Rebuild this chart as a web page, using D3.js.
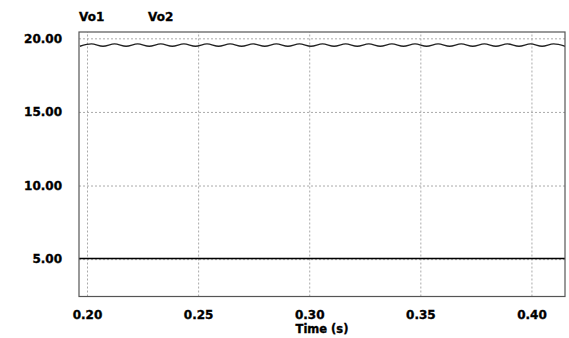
<!DOCTYPE html>
<html>
<head>
<meta charset="utf-8">
<script src="https://cdn.jsdelivr.net/npm/d3@7"></script>
<style>
  html, body { margin: 0; padding: 0; background: #fff; }
  svg { display: block; font-family: "DejaVu Sans", Verdana, sans-serif; font-weight: bold; }
  svg text { stroke: #000; stroke-width: 0.35px; }
</style>
</head>
<body>
<svg id="chart" width="569" height="338"></svg>
<script>
// ---- data ----
const seriesNames = ["Vo1", "Vo2"];
const xTicks = [0.20, 0.25, 0.30, 0.35, 0.40];
const yTicks = [5, 10, 15, 20];
const xLabel = "Time (s)";

// Vo1: ripple around 19.54 V, sampled at its crests and troughs
const vo1Time = [0.1968, 0.2020, 0.2072, 0.2124, 0.2176, 0.2228, 0.2280, 0.2332, 0.2384, 0.2436,
                 0.2488, 0.2540, 0.2592, 0.2644, 0.2696, 0.2748, 0.2800, 0.2852, 0.2904, 0.2956,
                 0.3008, 0.3060, 0.3112, 0.3164, 0.3216, 0.3268, 0.3320, 0.3372, 0.3424, 0.3476,
                 0.3528, 0.3580, 0.3632, 0.3684, 0.3736, 0.3788, 0.3840, 0.3892, 0.3944, 0.3996,
                 0.4048, 0.4100, 0.4152];
const vo1Value = [19.46, 19.62, 19.46, 19.62, 19.46, 19.62, 19.46, 19.62, 19.46, 19.62,
                  19.46, 19.62, 19.46, 19.62, 19.46, 19.62, 19.46, 19.62, 19.46, 19.62,
                  19.46, 19.62, 19.46, 19.62, 19.46, 19.62, 19.46, 19.62, 19.46, 19.62,
                  19.46, 19.62, 19.46, 19.62, 19.46, 19.62, 19.46, 19.62, 19.46, 19.62,
                  19.46, 19.62, 19.46];
// Vo2: flat at about 5.05 V
const vo2Time = [0.1964, 0.4151];
const vo2Value = [5.05, 5.05];

// ---- layout ----
const W = 569, H = 338;
const margin = { left: 79, right: 4, top: 32, bottom: 41.5 };
const iw = W - margin.left - margin.right;
const ih = H - margin.top - margin.bottom;

const svg = d3.select("#chart");
const x = d3.scaleLinear().domain([0.1964, 0.4151]).range([margin.left, margin.left + iw]);
const y = d3.scaleLinear().domain([2.46, 20.43]).range([margin.top + ih, margin.top]);

// clip
svg.append("defs").append("clipPath").attr("id", "clip")
  .append("rect").attr("x", margin.left).attr("y", margin.top).attr("width", iw).attr("height", ih);

// grid lines via axes
const gx = svg.append("g")
  .attr("transform", `translate(0,${margin.top + ih})`)
  .call(d3.axisBottom(x).tickValues(xTicks).tickSize(-ih).tickFormat(""));
gx.select(".domain").remove();
gx.selectAll("line").attr("stroke", "#aaa").attr("stroke-dasharray", "2,2").attr("stroke-width", 1);

const gy = svg.append("g")
  .attr("transform", `translate(${margin.left},0)`)
  .call(d3.axisLeft(y).tickValues(yTicks).tickSize(-iw).tickFormat(""));
gy.select(".domain").remove();
gy.selectAll("line").attr("stroke", "#aaa").attr("stroke-dasharray", "2,2").attr("stroke-width", 1);

// tick labels
const xl = svg.append("g")
  .attr("transform", `translate(0,${margin.top + ih})`)
  .call(d3.axisBottom(x).tickValues(xTicks).tickSize(0).tickPadding(14).tickFormat(d3.format(".2f")));
xl.select(".domain").remove();
xl.selectAll("text").attr("font-size", 12).attr("font-family", "DejaVu Sans, sans-serif")
  .attr("font-weight", "bold").attr("fill", "#000");

const yl = svg.append("g")
  .attr("transform", `translate(${margin.left},0)`)
  .call(d3.axisLeft(y).tickValues(yTicks).tickSize(0).tickPadding(17).tickFormat(d3.format(".2f")));
yl.select(".domain").remove();
yl.selectAll("text").attr("font-size", 12).attr("font-family", "DejaVu Sans, sans-serif")
  .attr("font-weight", "bold").attr("fill", "#000");

// lines
const line = d3.line().x(d => x(d[0])).y(d => y(d[1])).curve(d3.curveCardinal);
const vo1 = vo1Time.map((t, i) => [t, vo1Value[i]]);
const vo2 = vo2Time.map((t, i) => [t, vo2Value[i]]);

const plot = svg.append("g").attr("clip-path", "url(#clip)");
plot.append("path").datum(vo1).attr("d", line)
  .attr("fill", "none").attr("stroke", "#222").attr("stroke-width", 1.4);
plot.append("path").datum(vo2).attr("d", d3.line().x(d => x(d[0])).y(d => y(d[1])))
  .attr("fill", "none").attr("stroke", "#000").attr("stroke-width", 1.5);

// frame
svg.append("rect")
  .attr("x", margin.left).attr("y", margin.top).attr("width", iw).attr("height", ih)
  .attr("fill", "none").attr("stroke", "#555").attr("stroke-width", 1.2);

// legend names
const legendX = [79, 148];
svg.selectAll("text.legend").data(seriesNames).enter().append("text")
  .attr("class", "legend")
  .attr("x", (d, i) => legendX[i]).attr("y", 20.5)
  .attr("font-size", 12).attr("fill", "#000")
  .text(d => d);

// x-axis title
svg.append("text")
  .attr("x", margin.left + iw / 2).attr("y", 333)
  .attr("text-anchor", "middle").attr("font-size", 11.5).attr("fill", "#000")
  .text(xLabel);
</script>
</body>
</html>
